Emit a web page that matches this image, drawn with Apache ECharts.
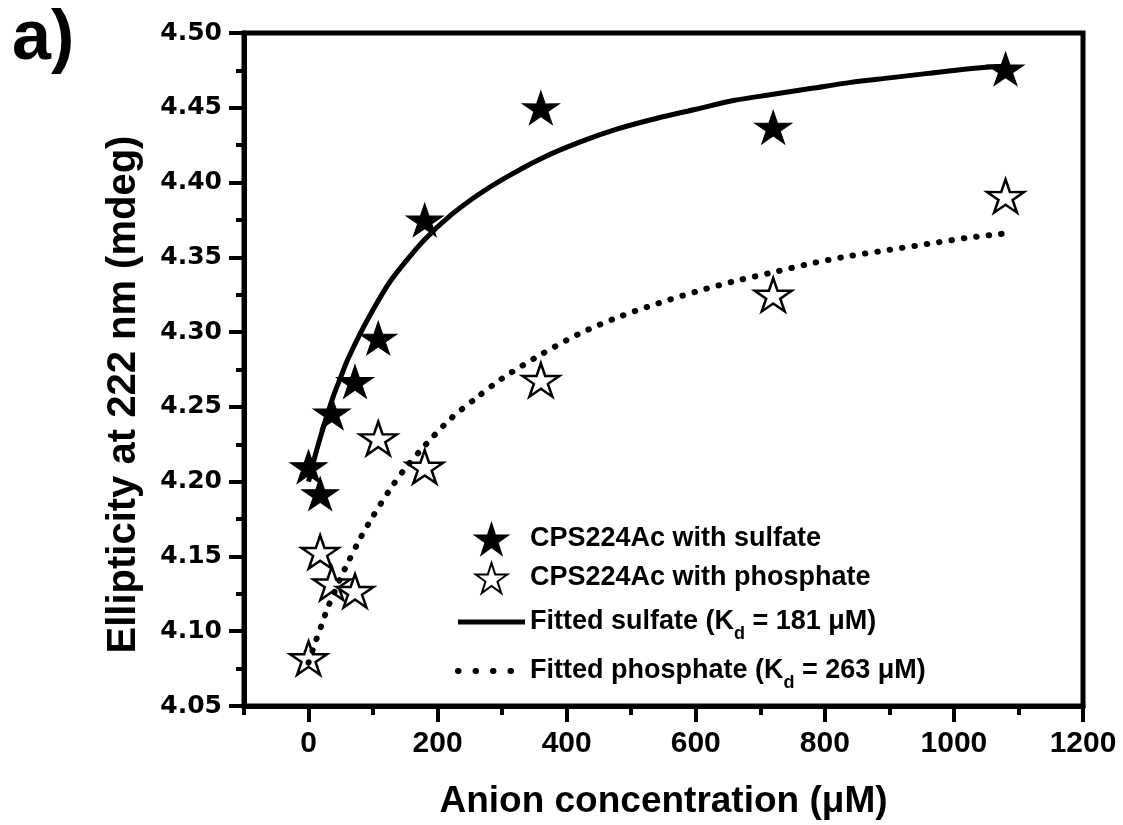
<!DOCTYPE html>
<html>
<head>
<meta charset="utf-8">
<script src="https://cdn.jsdelivr.net/npm/echarts@6/dist/echarts.min.js"></script>
<style>
  html, body { margin: 0; padding: 0; background: #fff; }
  #chart { width: 1123px; height: 825px; }
</style>
</head>
<body>
<div id="chart"></div>
<script>
// ---- data ----
const concentration = [0, 18, 36, 72, 108, 180, 360, 720, 1080];
const sulfate   = [4.210, 4.192, 4.246, 4.267, 4.296, 4.375, 4.450, 4.437, 4.476];
const phosphate = [4.082, 4.153, 4.132, 4.127, 4.229, 4.210, 4.268, 4.325, 4.391];

const fitX = [0, 10, 20, 30, 40, 50, 60, 80, 100, 125, 150, 180, 220, 260, 300, 360,
              420, 480, 540, 600, 660, 720, 780, 840, 900, 960, 1020, 1080];
const fitSulfate = [4.200, 4.217, 4.232, 4.246, 4.259, 4.270, 4.281, 4.299, 4.315, 4.333,
                    4.347, 4.362, 4.378, 4.391, 4.402, 4.416, 4.427, 4.436, 4.443, 4.449,
                    4.455, 4.459, 4.463, 4.467, 4.470, 4.473, 4.476, 4.478];
const fitPhosphate = [4.079, 4.092, 4.104, 4.116, 4.126, 4.136, 4.145, 4.162, 4.177, 4.194,
                      4.209, 4.224, 4.242, 4.256, 4.269, 4.285, 4.299, 4.310, 4.319, 4.327,
                      4.334, 4.340, 4.346, 4.351, 4.355, 4.359, 4.363, 4.366];

const xMajorTicks = [0, 200, 400, 600, 800, 1000, 1200];
const xMinorTicks = [-100, 100, 300, 500, 700, 900, 1100];

const seriesNames = ['CPS224Ac with sulfate', 'CPS224Ac with phosphate',
                     'Fitted sulfate (Kd = 181 μM)', 'Fitted phosphate (Kd = 263 μM)'];

// ---- rendering ----
const STAR = 'path://M50 0 L61.17 34.63 L97.55 34.55 L68.07 55.87 L79.39 90.45 L50 69 L20.61 90.45 L31.93 55.87 L2.45 34.55 L38.83 34.63 Z';
const FONT = '"Liberation Sans", Arial, sans-serif';
const HIDDEN = { color: 'rgba(0,0,0,0)', borderColor: 'rgba(0,0,0,0)', borderWidth: 0, opacity: 0 };

function zip(xs, ys) { return xs.map((x, i) => [x, ys[i]]); }

const chart = echarts.init(document.getElementById('chart'), null, { renderer: 'canvas' });

chart.setOption({
  backgroundColor: '#fff',
  animation: false,
  title: {
    text: 'a)', left: 7, top: 0,
    textStyle: { fontFamily: FONT, fontSize: 70, fontWeight: 'bold', color: '#000' }
  },
  grid: {
    left: 244, right: 40, top: 33, bottom: 119,
    show: true, borderColor: '#000', borderWidth: 5, backgroundColor: 'transparent'
  },
  legend: {
    data: [
      { name: seriesNames[0] },
      { name: seriesNames[1] },
      { name: seriesNames[2], itemStyle: HIDDEN, lineStyle: { color: '#000', width: 5 } },
      { name: seriesNames[3], itemStyle: HIDDEN,
        lineStyle: { color: '#000', width: 6, type: [0.5, 17], cap: 'round' } }
    ],
    orient: 'vertical',
    left: 450, top: 518,
    itemWidth: 67, itemHeight: 30, itemGap: 7,
    selectedMode: false,
    formatter: function (name) {
      const i = name.indexOf('Kd');
      if (i < 0) return '{t|' + name + '}';
      return '{t|' + name.slice(0, i) + 'K}{s|d}{t|' + name.slice(i + 2) + '}';
    },
    textStyle: {
      color: '#000',
      rich: {
        t: { fontFamily: FONT, fontSize: 27, fontWeight: 'bold', color: '#000', lineHeight: 30 },
        s: { fontFamily: FONT, fontSize: 18, fontWeight: 'bold', color: '#000', lineHeight: 30,
             padding: [24, 0, 0, 0], verticalAlign: 'middle' }
      }
    }
  },
  xAxis: [{
    type: 'value', min: -100, max: 1200,
    position: 'bottom',
    name: 'Anion concentration (μM)', nameLocation: 'middle', nameGap: 77,
    nameTextStyle: { fontFamily: FONT, fontSize: 37, fontWeight: 'bold', color: '#000' },
    axisLine: { show: true, onZero: false, lineStyle: { color: '#000', width: 5 } },
    axisTick: { show: true, customValues: xMajorTicks, length: 16, lineStyle: { color: '#000', width: 4 } },
    axisLabel: { show: true, customValues: xMajorTicks, margin: 23, formatter: v => String(v),
                 fontFamily: FONT, fontSize: 30, fontWeight: 'bold', color: '#000' },
    splitLine: { show: false }
  }, {
    type: 'value', min: -100, max: 1200,
    position: 'bottom',
    axisLine: { show: false },
    axisTick: { show: true, customValues: xMinorTicks, length: 9, lineStyle: { color: '#000', width: 4 } },
    axisLabel: { show: false },
    splitLine: { show: false }
  }],
  yAxis: {
    type: 'value', min: 4.05, max: 4.50, interval: 0.05,
    name: 'Ellipticity at 222 nm (mdeg)', nameLocation: 'middle', nameGap: 100,
    nameRotate: 90,
    nameTextStyle: { fontFamily: FONT, fontSize: 40, fontWeight: 'bold', color: '#000',
                     padding: [0, 50, 0, 0] },
    axisLine: { show: true, onZero: false, lineStyle: { color: '#000', width: 5 } },
    axisTick: { show: true, length: 15, lineStyle: { color: '#000', width: 4 } },
    minorTick: { show: true, splitNumber: 2, length: 8, lineStyle: { color: '#000', width: 4 } },
    axisLabel: { margin: 22, formatter: v => v.toFixed(2),
                 fontFamily: '"DejaVu Sans", sans-serif', fontSize: 25, fontWeight: 'bold', color: '#000' },
    splitLine: { show: false }
  },
  series: [{
    name: seriesNames[0], type: 'scatter', z: 2,
    data: zip(concentration, sulfate),
    symbol: STAR, symbolSize: [37, 35], symbolKeepAspect: true,
    itemStyle: { color: '#000', borderColor: '#000', borderWidth: 1, opacity: 1 }
  }, {
    name: seriesNames[1], type: 'scatter', z: 2,
    data: zip(concentration, phosphate),
    symbol: STAR, symbolSize: [37, 35], symbolKeepAspect: true,
    itemStyle: { color: '#fff', borderColor: '#000', borderWidth: 2.5, opacity: 1 }
  }, {
    name: seriesNames[2], type: 'line', z: 3,
    data: zip(fitX, fitSulfate),
    symbol: 'none', showSymbol: false, smooth: 0.3,
    lineStyle: { color: '#000', width: 5 },
    itemStyle: { color: '#000' }
  }, {
    name: seriesNames[3], type: 'line', z: 3,
    data: zip(fitX, fitPhosphate),
    symbol: 'none', showSymbol: false, smooth: 0.3,
    lineStyle: { color: '#000', width: 6, type: [0.5, 12], cap: 'round' },
    itemStyle: { color: '#000' }
  }]
});
</script>
</body>
</html>
